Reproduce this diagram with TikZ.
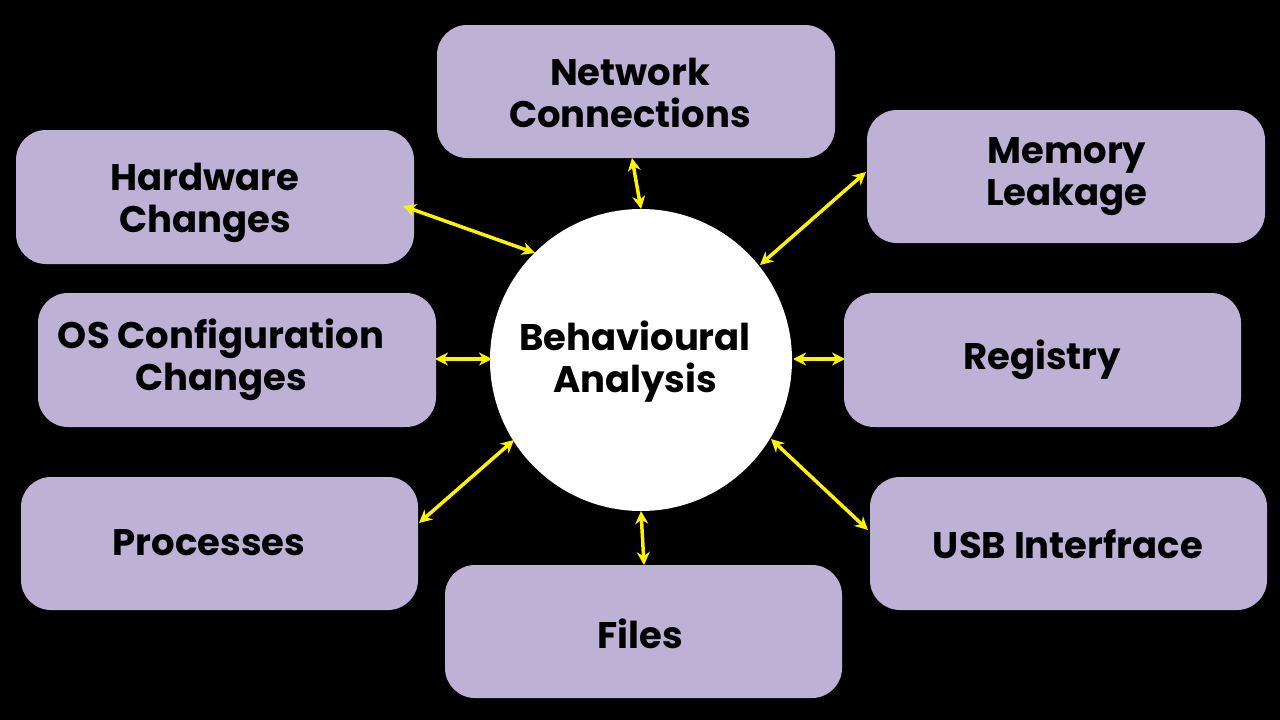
\documentclass[tikz,border=0pt]{standalone}
\usepackage{fontspec}
\setmainfont{Poppins}
\usetikzlibrary{arrows.meta}
\definecolor{boxc}{HTML}{BDB1D5}
\begin{document}
\begin{tikzpicture}[x=1pt,y=-1pt,
 box/.style={fill=boxc,rounded corners=30pt},
 lbl/.style={font=\fontsize{37}{42}\selectfont\bfseries,align=center,text=black},
 arr/.style={draw=yellow,line width=3.5pt,{Stealth[length=13pt,width=13pt]}-{Stealth[length=13pt,width=13pt]}}]
\fill[black] (0,0) rectangle (1280,720);
\useasboundingbox (0,0) rectangle (1280,720);
\fill[box] (437,25) rectangle (835,158);
\fill[box] (867,110) rectangle (1265,243);
\fill[box] (16,130) rectangle (414,264);
\fill[box] (38,293) rectangle (436,427);
\fill[box] (844,293) rectangle (1241,427);
\fill[box] (21,477) rectangle (418,610);
\fill[box] (870,477) rectangle (1267,610);
\fill[box] (445,565) rectangle (842,698);
\node[lbl] (net) at (630,93) {Network\\Connections};
\node[lbl] (mem) at (1067,177) {Memory\\Leakage};
\node[lbl] (hw) at (205,203) {Hardware\\Changes};
\node[lbl] (os) at (221,360) {OS Configuration\\Changes};
\node[lbl] (reg) at (1042,360) {Registry};
\node[lbl] (proc) at (209,543) {Processes};
\node[lbl] (usb) at (1068,544) {USB Interfrace};
\node[lbl] (files) at (640,634) {Files};
\fill[white] (641,360) circle (151);
\node[lbl] (ba) at (635,362) {Behavioural\\Analysis};
\coordinate (a1) at (632,158); \coordinate (b1) at (641,209);
\coordinate (a2) at (866,172); \coordinate (b2) at (760,265);
\coordinate (a3) at (403,206); \coordinate (b3) at (535,253);
\coordinate (a4) at (435,359); \coordinate (b4) at (492,359);
\coordinate (a5) at (793,359); \coordinate (b5) at (845,359);
\coordinate (a6) at (419,523); \coordinate (b6) at (514,440);
\coordinate (a7) at (771,439); \coordinate (b7) at (868,530);
\coordinate (a8) at (641,511); \coordinate (b8) at (644,565);
\foreach \i in {1,...,8} \draw[arr] (a\i) -- (b\i);
\end{tikzpicture}
\end{document}
